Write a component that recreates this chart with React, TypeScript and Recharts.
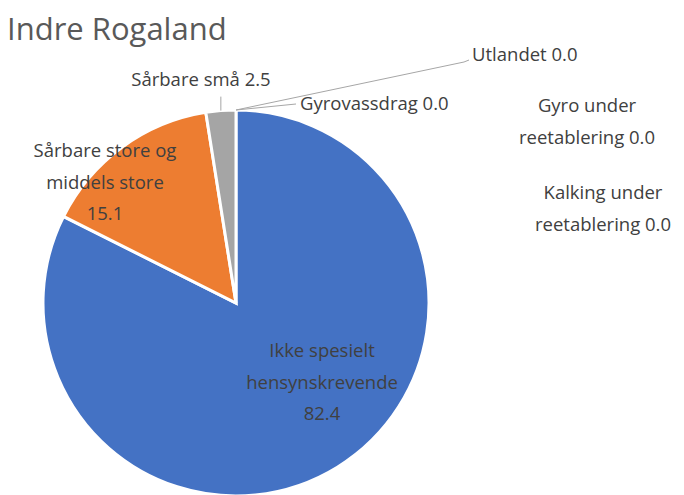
import { PieChart, Pie, Cell } from "recharts";

const categories = [
  "Ikke spesielt hensynskrevende",
  "Sårbare store og middels store",
  "Sårbare små",
  "Gyrovassdrag",
  "Utlandet",
  "Gyro under reetablering",
  "Kalking under reetablering",
];
const values = [82.4, 15.1, 2.5, 0.0, 0.0, 0.0, 0.0];
const colors = ["#4472C4", "#ED7D31", "#A5A5A5", "#FFC000", "#5B9BD5", "#70AD47", "#264478"];
// how each label breaks into lines
const labelLines = [
  ["Ikke spesielt", "hensynskrevende"],
  ["Sårbare store og", "middels store"],
  ["Sårbare små"],
  ["Gyrovassdrag"],
  ["Utlandet"],
  ["Gyro under", "reetablering"],
  ["Kalking under", "reetablering"],
];

const data = categories.map((name, i) => ({ name, value: values[i] }));

const RAD = Math.PI / 180;
const LINE_H = 31.5;

// label placement relative to the pie centre
const layout: Record<number, { dx: number; dy: number; anchor: "start" | "middle"; inline: boolean; leader?: number[][] }> = {
  0: { dx: 86, dy: 46, anchor: "middle", inline: false },
  1: { dx: -131, dy: -154, anchor: "middle", inline: false },
  2: { dx: -35, dy: -225, anchor: "middle", inline: true, leader: [[0, -14]] },
  3: { dx: 64, dy: -201, anchor: "start", inline: true, leader: [[60, -6]] },
  4: { dx: 236, dy: -250, anchor: "start", inline: true, leader: [[228, -48], [233, -50]] },
  5: { dx: 351, dy: -199, anchor: "middle", inline: true },
  6: { dx: 367, dy: -112, anchor: "middle", inline: true },
};

function renderLabel(props: any) {
  const { cx, cy, midAngle, outerRadius, index, value } = props;
  const l = layout[index];
  if (!l) return null;
  const px = cx + outerRadius * Math.cos(-midAngle * RAD);
  const py = cy + outerRadius * Math.sin(-midAngle * RAD);
  const v = Number(value).toFixed(1);
  const lines = [...labelLines[index]];
  if (l.inline) lines[lines.length - 1] = lines[lines.length - 1] + " " + v;
  else lines.push(v);
  let path = "";
  if (l.leader) {
    path = `M${px},${py}` + l.leader.map(([x, y]) => ` L${px + x},${py + y}`).join("");
  }
  return (
    <g key={`lbl-${index}`}>
      {path && <path d={path} stroke="#A6A6A6" strokeWidth={1} fill="none" />}
      <text
        x={cx + l.dx}
        y={cy + l.dy}
        textAnchor={l.anchor}
        dominantBaseline="central"
        fill="#404040"
        fontSize={18.5}
        fontFamily="'Open Sans', sans-serif"
      >
        {lines.map((t, i) => (
          <tspan key={i} x={cx + l.dx} y={cy + l.dy + i * LINE_H}>
            {t}
          </tspan>
        ))}
      </text>
    </g>
  );
}

export default function App() {
  return (
    <div style={{ position: "absolute", left: 0, top: 0, width: 684, height: 495, background: "#fff", overflow: "hidden" }}>
      <div
        style={{
          position: "absolute",
          left: 7,
          top: 6,
          fontFamily: "'Open Sans', sans-serif",
          fontSize: 31,
          color: "#595959",
          lineHeight: "44px",
        }}
      >
        Indre Rogaland
      </div>
      <PieChart width={684} height={495} margin={{ top: 0, right: 0, bottom: 0, left: 0 }}>
        <Pie
          data={data}
          dataKey="value"
          nameKey="name"
          cx={236}
          cy={303}
          outerRadius={193}
          startAngle={90}
          endAngle={-270}
          stroke="#fff"
          strokeWidth={3}
          label={renderLabel}
          labelLine={false}
          isAnimationActive={false}
        >
          {data.map((d, i) => (
            <Cell key={d.name} fill={colors[i]} />
          ))}
        </Pie>
      </PieChart>
    </div>
  );
}
